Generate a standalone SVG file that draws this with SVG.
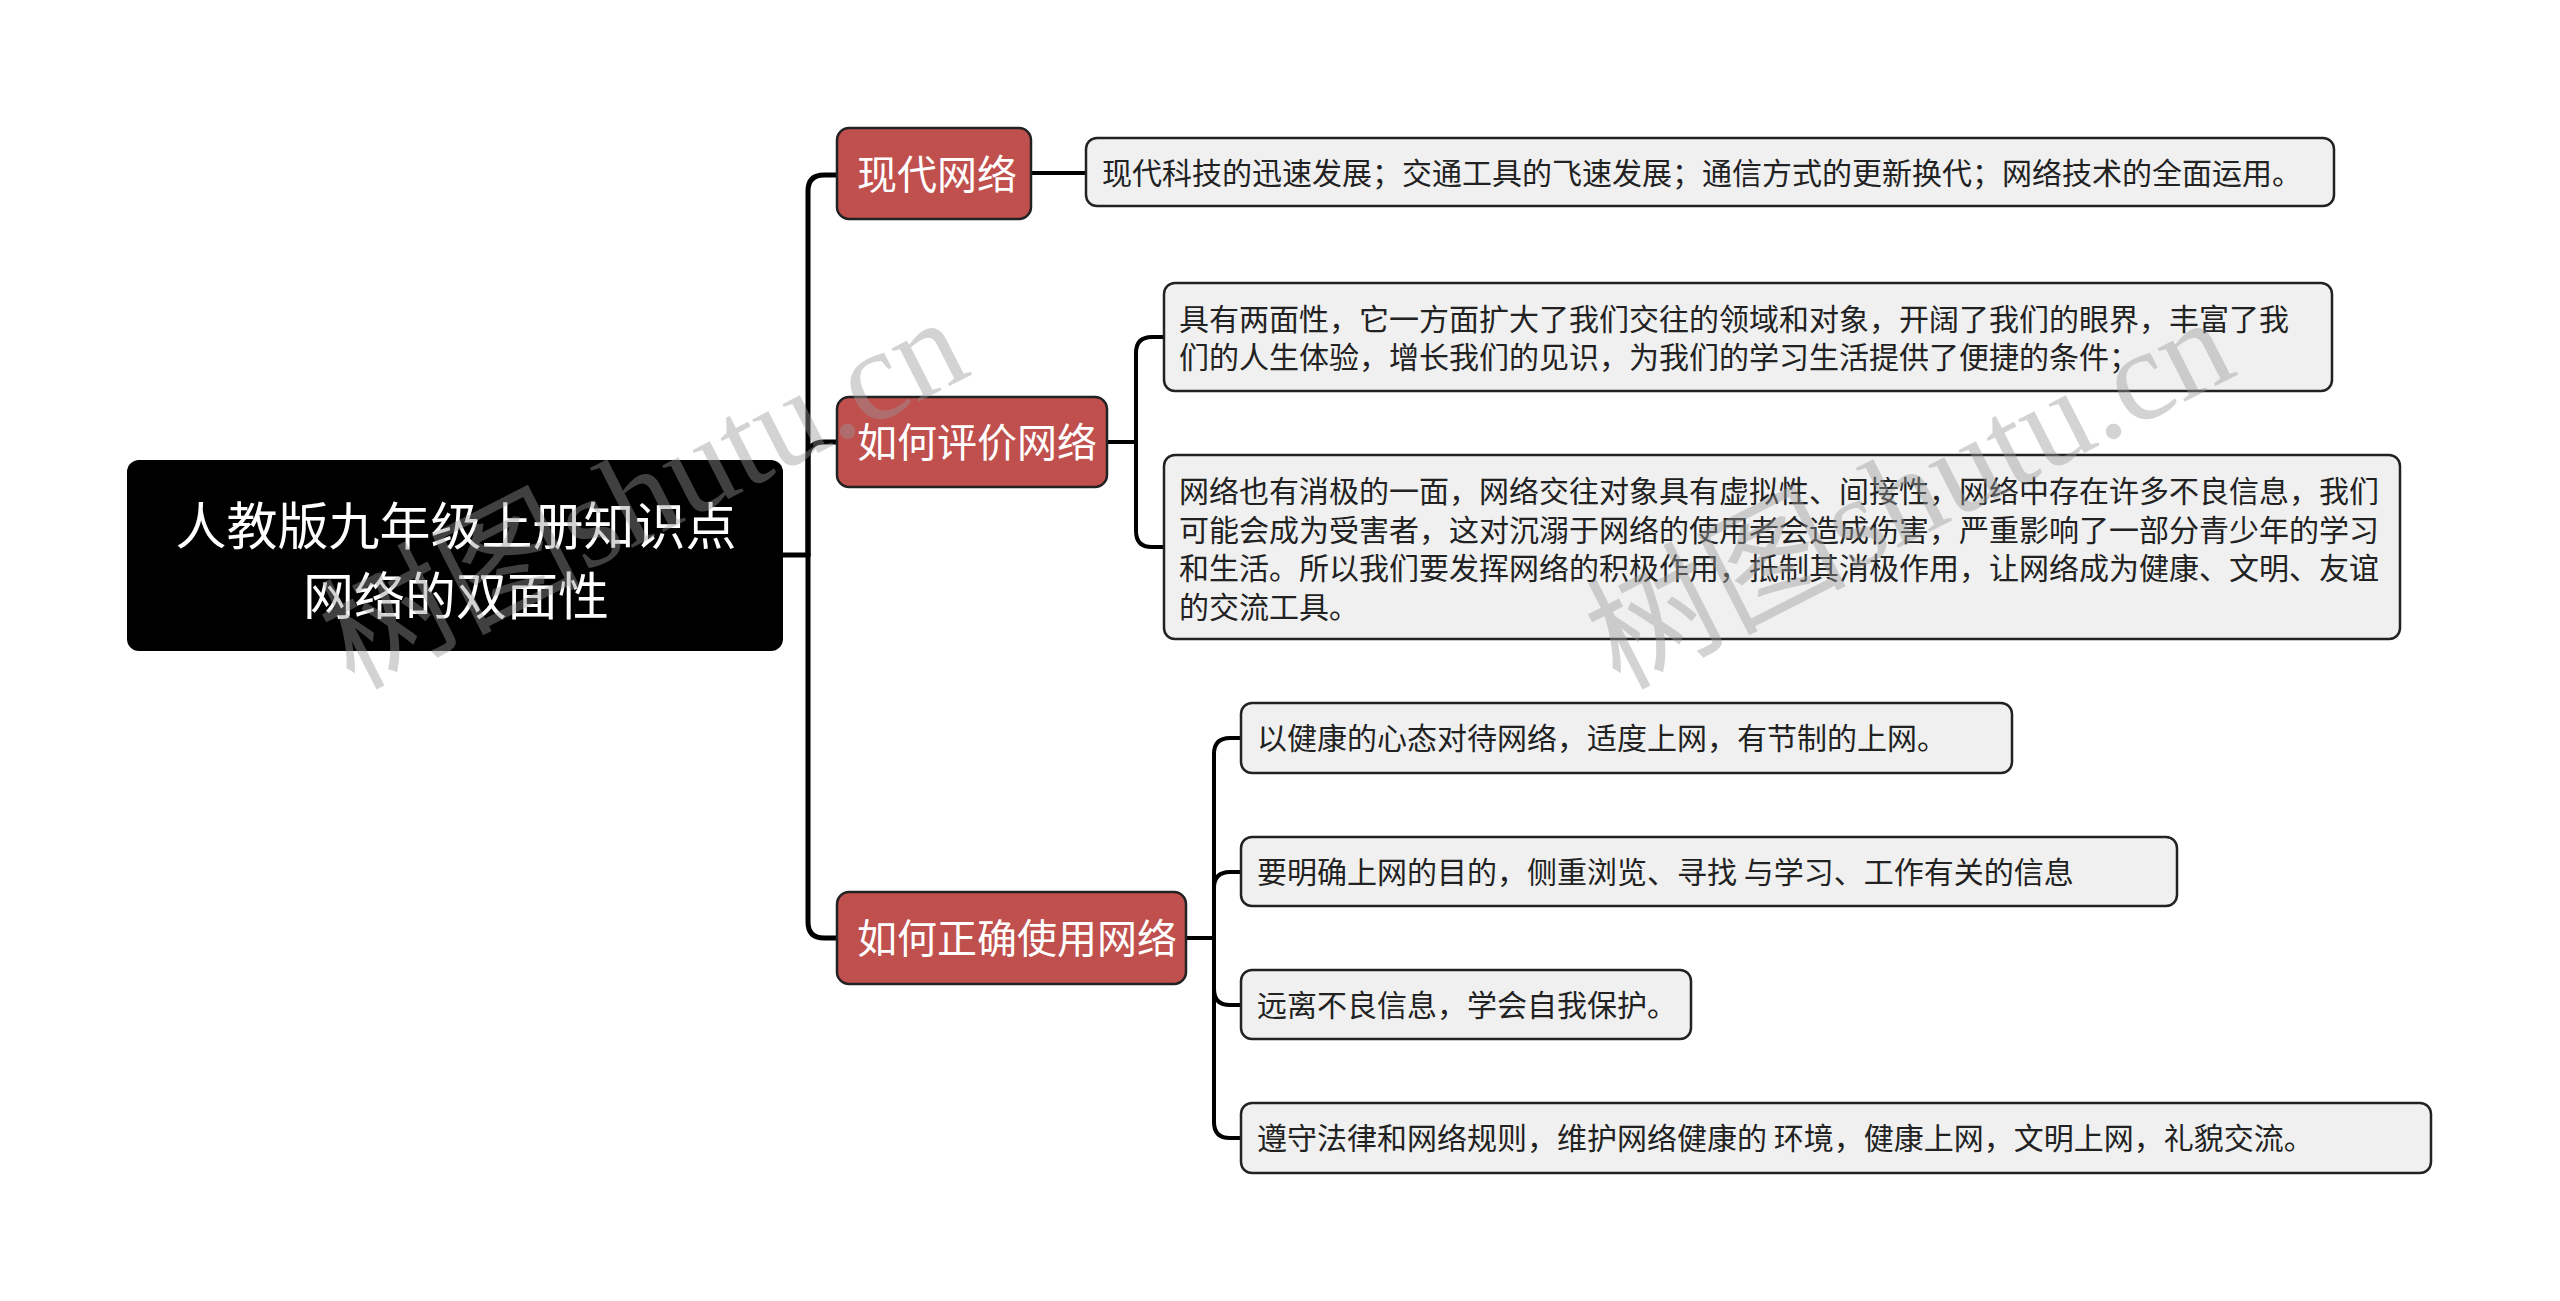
<svg xmlns="http://www.w3.org/2000/svg" width="2560" height="1301" viewBox="0 0 2560 1301">
<style>
.root{fill:#000000;}
.topic{fill:#C0504D;stroke:#222222;stroke-width:2.5;}
.detail{fill:#F0F0F0;stroke:#222222;stroke-width:2.5;}
.rt{font-family:"Noto Sans CJK SC","Noto Sans",sans-serif;font-size:51px;fill:#ffffff;text-anchor:middle;}
.tt{font-family:"Noto Sans CJK SC","Noto Sans",sans-serif;font-size:40px;fill:#ffffff;}
.dt{font-family:"Noto Sans CJK SC","Noto Sans",sans-serif;font-size:30px;fill:#222222;}
.main{fill:none;stroke:#000000;stroke-width:5;stroke-linecap:round;stroke-linejoin:round;}
.sub{fill:none;stroke:#000000;stroke-width:4;stroke-linecap:round;stroke-linejoin:round;}
.wm{font-family:"Liberation Serif","Noto Sans CJK SC",serif;font-size:130px;fill:#999999;opacity:0.42;}
</style>
<rect width="2560" height="1301" fill="#ffffff"/>
<g id="connectors">
<path class="main" d="M783,555 H808"/>
<path class="main" d="M808,555 V191 Q808,175 824,175 H837"/>
<path class="main" d="M808,555 V458 Q808,442 824,442 H837"/>
<path class="main" d="M808,555 V922 Q808,938 824,938 H837"/>
<path class="sub" d="M1031,173 H1086"/>
<path class="sub" d="M1107,442 H1136"/>
<path class="sub" d="M1136,442 V353 Q1136,337 1152,337 H1164"/>
<path class="sub" d="M1136,442 V531 Q1136,547 1152,547 H1164"/>
<path class="sub" d="M1186,938 H1214"/>
<path class="sub" d="M1214,938 V754 Q1214,738 1230,738 H1241"/>
<path class="sub" d="M1214,938 V888 Q1214,872 1230,872 H1241"/>
<path class="sub" d="M1214,938 V989 Q1214,1005 1230,1005 H1241"/>
<path class="sub" d="M1214,938 V1122 Q1214,1138 1230,1138 H1241"/>
</g>
<g id="root">
<rect class="root" x="127" y="460" width="656" height="191" rx="12"/>
<text class="rt" x="456" y="545">人教版九年级上册知识点</text>
<text class="rt" x="456" y="615">网络的双面性</text>
</g>
<g id="topic1">
<rect class="topic" x="837" y="128" width="194" height="91" rx="12"/>
<text class="tt" x="857" y="189">现代网络</text>
</g>
<g id="topic2">
<rect class="topic" x="837" y="397" width="270" height="90" rx="12"/>
<text class="tt" x="857" y="457">如何评价网络</text>
</g>
<g id="topic3">
<rect class="topic" x="837" y="892" width="349" height="92" rx="12"/>
<text class="tt" x="857" y="953">如何正确使用网络</text>
</g>
<g id="detail1">
<rect class="detail" x="1086" y="138" width="1248" height="68" rx="11"/>
<text class="dt" x="1102" y="184">现代科技的迅速发展；交通工具的飞速发展；通信方式的更新换代；网络技术的全面运用。</text>
</g>
<g id="detail2">
<rect class="detail" x="1164" y="283" width="1168" height="108" rx="11"/>
<text class="dt" x="1179" y="330">具有两面性，它一方面扩大了我们交往的领域和对象，开阔了我们的眼界，丰富了我</text>
<text class="dt" x="1179" y="368">们的人生体验，增长我们的见识，为我们的学习生活提供了便捷的条件；</text>
</g>
<g id="detail3">
<rect class="detail" x="1164" y="455" width="1236" height="184" rx="11"/>
<text class="dt" x="1179" y="502">网络也有消极的一面，网络交往对象具有虚拟性、间接性，网络中存在许多不良信息，我们</text>
<text class="dt" x="1179" y="541">可能会成为受害者，这对沉溺于网络的使用者会造成伤害，严重影响了一部分青少年的学习</text>
<text class="dt" x="1179" y="579">和生活。所以我们要发挥网络的积极作用，抵制其消极作用，让网络成为健康、文明、友谊</text>
<text class="dt" x="1179" y="618">的交流工具。</text>
</g>
<g id="detail4">
<rect class="detail" x="1241" y="703" width="771" height="70" rx="11"/>
<text class="dt" x="1257" y="749">以健康的心态对待网络，适度上网，有节制的上网。</text>
</g>
<g id="detail5">
<rect class="detail" x="1241" y="837" width="936" height="69" rx="11"/>
<text class="dt" x="1257" y="883">要明确上网的目的，侧重浏览、寻找 与学习、工作有关的信息</text>
</g>
<g id="detail6">
<rect class="detail" x="1241" y="970" width="450" height="69" rx="11"/>
<text class="dt" x="1257" y="1016">远离不良信息，学会自我保护。</text>
</g>
<g id="detail7">
<rect class="detail" x="1241" y="1103" width="1190" height="70" rx="11"/>
<text class="dt" x="1257" y="1149">遵守法律和网络规则，维护网络健康的 环境，健康上网，文明上网，礼貌交流。</text>
</g>
<g id="watermarks">
<text class="wm" transform="translate(353,690) rotate(-27)">树图shutu.cn</text>
<text class="wm" transform="translate(1619,690) rotate(-27)">树图shutu.cn</text>
</g>
</svg>
